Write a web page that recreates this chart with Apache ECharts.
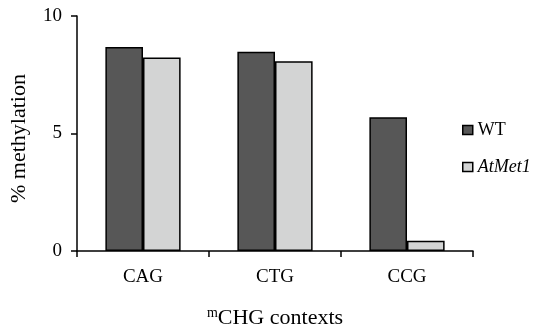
<!DOCTYPE html>
<html><head><meta charset="utf-8">
<script src="https://cdn.jsdelivr.net/npm/echarts@6/dist/echarts.min.js"></script>
<style>html,body{margin:0;padding:0;background:#fff}#c{width:538px;height:328px}</style>
</head><body><div id="c"></div>
<script>
const categories = ['CAG', 'CTG', 'CCG'];
const wtValues = [8.68, 8.48, 5.69];
const metValues = [8.23, 8.07, 0.44];
const yTicks = [0, 5, 10];

const font = '"Liberation Serif", "Times New Roman", serif';
const chart = echarts.init(document.getElementById('c'));
chart.setOption({
  animation: false,
  backgroundColor: '#fff',
  textStyle: { fontFamily: font },
  grid: { left: 77, top: 16, right: 65, bottom: 77, containLabel: false, outerBoundsMode: 'none' },
  legend: {
    orient: 'vertical',
    left: 457, top: 116,
    itemWidth: 10, itemHeight: 9, itemGap: 19, itemTextGap: 12,
    formatter: function (n) { return n === 'AtMet1' ? '{i|' + n + '}' : n; },
    textStyle: {
      fontFamily: font, fontSize: 18, color: '#000',
      rich: { i: { fontFamily: font, fontSize: 18, fontStyle: 'italic', color: '#000' } }
    },
    data: [
      { name: 'WT', icon: 'rect', itemStyle: { color: '#575757', borderColor: '#000', borderWidth: 1.5 } },
      { name: 'AtMet1', icon: 'rect', itemStyle: { color: '#d3d4d4', borderColor: '#000', borderWidth: 1.5 } }
    ]
  },
  xAxis: {
    type: 'category',
    data: categories,
    name: '{s|m}CHG contexts',
    nameLocation: 'middle',
    nameGap: 55,
    nameTextStyle: {
      fontFamily: font, fontSize: 22, color: '#000',
      rich: { s: { fontFamily: font, fontSize: 14, color: '#000', verticalAlign: 'top', padding: [0, 0, 10, 0] } }
    },
    axisLine: { lineStyle: { color: '#000', width: 1.5 } },
    axisTick: { show: true, length: 6, alignWithLabel: false, lineStyle: { color: '#000', width: 1.5 } },
    axisLabel: { fontFamily: font, fontSize: 19, color: '#000', margin: 17 }
  },
  yAxis: {
    type: 'value',
    min: 0, max: 10, interval: 5,
    name: '% methylation',
    nameLocation: 'middle',
    nameGap: 47,
    nameTextStyle: { fontFamily: font, fontSize: 22, color: '#000', padding: [0, 10, 0, 0] },
    splitLine: { show: false },
    axisLine: { show: true, lineStyle: { color: '#000', width: 1.5 } },
    axisTick: { show: true, length: 6, lineStyle: { color: '#000', width: 1.5 } },
    axisLabel: {
      fontFamily: font, fontSize: 19, color: '#000', margin: 15,
      formatter: function (v) { return yTicks.indexOf(v) >= 0 ? String(v) : ''; }
    }
  },
  series: [
    {
      name: 'WT', type: 'bar', data: wtValues,
      barGap: '0%', barCategoryGap: '43%',
      itemStyle: { color: '#575757', borderColor: '#000', borderWidth: 1.5 }
    },
    {
      name: 'AtMet1', type: 'bar', data: metValues,
      barGap: '0%', barCategoryGap: '43%',
      itemStyle: { color: '#d3d4d4', borderColor: '#000', borderWidth: 1.5 }
    }
  ]
});
</script></body></html>
